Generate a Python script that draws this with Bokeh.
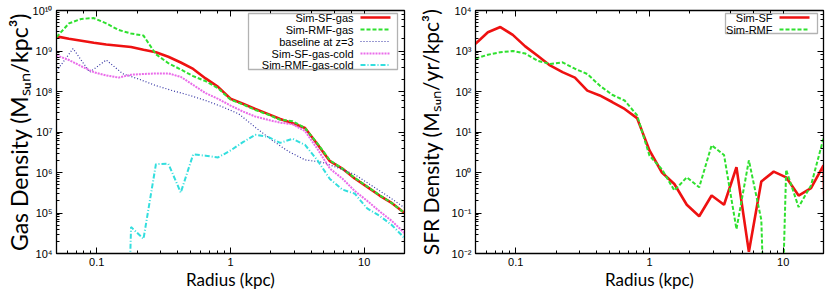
from bokeh.plotting import figure
from bokeh.layouts import row
from bokeh.models import (LogAxis, CustomJSTickFormatter, Label, Arrow,
                          BoxAnnotation, Range1d)
from bokeh.embed import file_html
from bokeh.resources import INLINE

# ---------------- data ----------------
radius_kpc = [0.0500, 0.0619, 0.0767, 0.0950, 0.1177, 0.1458, 0.1805, 0.2236,
              0.2769, 0.3429, 0.4247, 0.5260, 0.6514, 0.8072, 1.0000, 1.2385,
              1.5338, 1.8996, 2.3526, 2.9137, 3.6086, 4.4692, 5.5351, 6.8551,
              8.4899, 10.515, 13.023, 16.128, 20.0]
radius_baseline_kpc = [0.0500, 0.0665, 0.0885, 0.1177, 0.1565, 0.2083, 0.2769,
                       0.3684, 0.4900, 0.6515, 0.8670, 1.1533, 1.5345, 2.0408,
                       2.7149, 3.6112, 4.8025, 6.3891, 8.4998, 11.307, 15.040, 20.0]
radius_rmf_cold_kpc = radius_kpc[5:]
radius_sfr_sf_kpc = radius_kpc + [24.77]

sim_sf_gas = [2.3e9, 2.0e9, 1.8e9, 1.6e9, 1.45e9, 1.35e9, 1.25e9, 1.07e9, 9.3e8,
              7.2e8, 5.2e8, 3.6e8, 2.1e8, 1.3e8, 6.6e7, 5.0e7, 3.7e7, 2.8e7,
              2.1e7, 1.65e7, 1.25e7, 5.0e6, 1.9e6, 1.25e6, 7.1e5, 4.4e5, 2.7e5,
              1.75e5, 1.0e5]
sim_rmf_gas = [2.2e9, 4.8e9, 6.2e9, 6.5e9, 4.8e9, 3.3e9, 2.7e9, 2.4e9, 8.3e8,
               5.0e8, 3.5e8, 2.4e8, 1.8e8, 1.2e8, 6.3e7, 4.8e7, 3.5e7, 2.7e7,
               2.0e7, 1.85e7, 1.25e7, 5.2e6, 2.0e6, 1.25e6, 7.4e5, 4.5e5, 2.75e5,
               1.75e5, 1.0e5]
baseline_z3 = [3.2e8, 1.15e9, 3.0e8, 6.0e8, 2.75e8, 2.0e8, 1.4e8, 1.05e8, 8.1e7,
               6.0e7, 4.2e7, 2.8e7, 1.3e7, 6.3e6, 3.3e6, 2.05e6, 1.8e6, 1.3e6,
               8.9e5, 4.8e5, 2.6e5, 1.35e5]
sim_sf_gas_cold = [7.8e8, 6.0e8, 4.2e8, 3.0e8, 2.5e8, 2.2e8, 2.6e8, 2.7e8, 2.8e8,
                   2.8e8, 2.3e8, 1.45e8, 9.1e7, 6.6e7, 4.5e7, 3.2e7, 2.4e7, 2.0e7,
                   1.7e7, 1.55e7, 1.05e7, 3.8e6, 1.25e6, 7.1e5, 3.5e5, 2.0e5,
                   1.1e5, 6.3e4, 3.2e4]
sim_rmf_gas_cold = [1e-6, 4.5e4, 2.3e4, 1.6e6, 1.65e6, 3.2e5, 2.8e6, 2.6e6, 2.35e6,
                    3.5e6, 5.6e6, 8.5e6, 7.6e6, 5.4e6, 6.8e6, 4.8e6, 2.0e6, 6.9e5,
                    3.8e5, 3.0e5, 1.3e5, 8.5e4, 5.0e4, 2.4e4]

sfr_sim_sf = [1500, 2900, 3900, 2500, 1300, 760, 440, 300, 220, 105, 80, 55, 37,
              22, 3.5, 1.0, 0.52, 0.16, 0.083, 0.27, 0.16, 1.35, 0.011, 0.60,
              1.05, 0.76, 0.27, 0.41, 1.5, 1e-12]
sfr_sim_rmf = [650, 810, 930, 1000, 870, 575, 480, 525, 365, 270, 140, 83, 60,
               26, 2.6, 1.2, 0.36, 0.76, 0.43, 4.7, 2.7, 0.04, 2.0, 0.068, 1e-11,
               1.17, 0.14, 0.48, 7.0]

gas_labels = ["Sim-SF-gas", "Sim-RMF-gas", "baseline at z=3", "Sim-SF-gas-cold",
              "Sim-RMF-gas-cold"]
sfr_labels = ["Sim-SF", "Sim-RMF"]

# ---------------- styles ----------------
RED = dict(line_color="#ee1111", line_width=2.6)
GREEN = dict(line_color="#2fe02f", line_width=2.0, line_dash="4 2")
BLUE = dict(line_color="#3434a4", line_width=1.2, line_dash="1 2")
MAGENTA = dict(line_color="#ea6cea", line_width=2.0, line_dash="2 1")
CYAN = dict(line_color="#33dede", line_width=2.0, line_dash="5 2 1 2")

FRAME_W = 348
FRAME_H = 243
TOP_B, BOTTOM_B = 10, 41
TICK_FONT = "Liberation Sans"
LABEL_FONT = "Lato"

yfmt_code = """
const sup = {"0":"\u2070","1":"\u00b9","2":"\u00b2","3":"\u00b3","4":"\u2074",
             "5":"\u2075","6":"\u2076","7":"\u2077","8":"\u2078","9":"\u2079","-":"\u207b"};
const e = Math.round(Math.log10(tick));
return "10" + String(e).split("").map(c => sup[c]).join("");
"""
xfmt_code = "return String(Number(tick.toPrecision(3)));"


def style_axis(ax):
    ax.major_tick_in = 6
    ax.major_tick_out = 0
    ax.minor_tick_in = 3
    ax.minor_tick_out = 0
    ax.axis_line_color = "black"
    ax.major_tick_line_color = "black"
    ax.minor_tick_line_color = "black"
    ax.major_label_text_color = "black"
    ax.major_label_text_font = TICK_FONT
    ax.major_label_text_font_size = "11px"


def make_fig(y_range, ylabel, ylabel_size, mb_left, mb_right, ylabel_standoff):
    p = figure(frame_width=FRAME_W, frame_height=FRAME_H,
               x_axis_type="log", y_axis_type="log",
               x_range=Range1d(0.05, 20), y_range=y_range,
               output_backend="svg", toolbar_location=None,
               min_border_left=mb_left, min_border_right=mb_right,
               min_border_top=TOP_B, min_border_bottom=BOTTOM_B)
    p.grid.visible = False
    p.outline_line_color = "black"
    p.outline_line_width = 1.3
    p.background_fill_color = "white"
    p.border_fill_color = "white"
    for ax in p.axis:
        style_axis(ax)
    p.xaxis.formatter = CustomJSTickFormatter(code=xfmt_code)
    p.yaxis.formatter = CustomJSTickFormatter(code=yfmt_code)
    p.xaxis.major_label_standoff = 4
    p.yaxis.major_label_standoff = 4
    p.xaxis.axis_label = "Radius (kpc)"
    p.yaxis.axis_label = ylabel
    p.xaxis.axis_label_text_font_size = "17px"
    p.yaxis.axis_label_text_font_size = ylabel_size
    p.xaxis.axis_label_standoff = 0
    p.yaxis.axis_label_standoff = ylabel_standoff
    for ax in p.axis:
        ax.axis_label_text_font = LABEL_FONT
        ax.axis_label_text_font_style = "normal"
        ax.axis_label_text_color = "black"
    for side in ("above", "right"):
        m = LogAxis(formatter=CustomJSTickFormatter(code="return '';"))
        style_axis(m)
        m.major_label_text_font_size = "0px"
        m.major_label_standoff = 0
        p.add_layout(m, side)
    return p


def add_legend(p, box_lr, box_tb, rows, labels, styles):
    # positions in screen units measured from the frame's bottom-left corner
    p.add_layout(BoxAnnotation(left=FRAME_W - box_lr[0], right=FRAME_W - box_lr[1],
                               top=FRAME_H - box_tb[0], bottom=FRAME_H - box_tb[1],
                               left_units="screen", right_units="screen",
                               top_units="screen", bottom_units="screen",
                               fill_color="white", fill_alpha=1.0,
                               line_color="black", line_width=1.3))
    for off, lab, st in zip(rows, labels, styles):
        y = FRAME_H - off
        p.add_layout(Label(x=FRAME_W - 51, y=y, x_units="screen", y_units="screen",
                           text=lab, text_align="right", text_baseline="middle",
                           text_font=TICK_FONT, text_font_size="11px",
                           text_color="black"))
        p.add_layout(Arrow(x_start=FRAME_W - 44, y_start=y, x_end=FRAME_W - 14, y_end=y,
                           start_units="screen", end_units="screen", end=None,
                           **st))


# ---------------- left: gas density ----------------
p1 = make_fig(Range1d(1e4, 1e10), "Gas Density (M\u209b\u1d64\u2099/kpc\u00b3)", "23px",
              56, 8, -3)
p1.line(radius_kpc, sim_sf_gas, **RED)
p1.line(radius_kpc, sim_rmf_gas, **GREEN)
p1.line(radius_baseline_kpc, baseline_z3, **BLUE)
p1.line(radius_kpc, sim_sf_gas_cold, **MAGENTA)
p1.line(radius_rmf_cold_kpc, sim_rmf_gas_cold, **CYAN)
add_legend(p1, (156, 7), (3, 59), [7, 19, 31, 43, 54.5], gas_labels,
           [RED, GREEN, BLUE, MAGENTA, CYAN])

# ---------------- right: SFR density ----------------
p2 = make_fig(Range1d(1e-2, 1e4), "SFR Density (M\u209b\u1d64\u2099/yr/kpc\u00b3)", "21px",
              63, 7, 6)
p2.line(radius_sfr_sf_kpc, sfr_sim_sf, **RED)
p2.line(radius_kpc, sfr_sim_rmf, **GREEN)
add_legend(p2, (98, 6), (3, 23), [7, 19], sfr_labels, [RED, GREEN])

layout = row(p1, p2, spacing=0)
open("out.html", "w").write(file_html(layout, INLINE))
